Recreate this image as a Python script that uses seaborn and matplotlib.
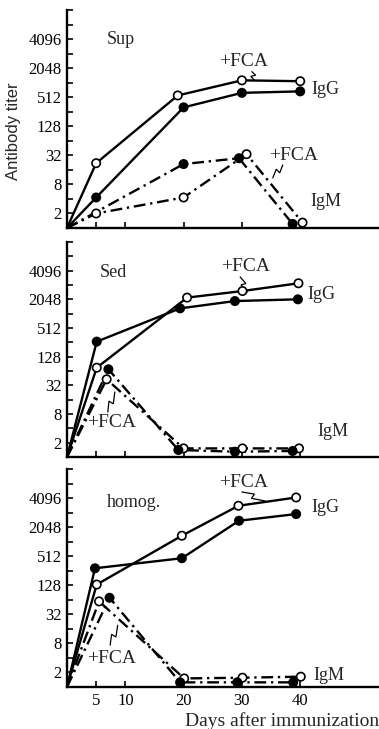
import numpy as np
import pandas as pd
import matplotlib
matplotlib.use("Agg")
import matplotlib.pyplot as plt
import seaborn as sns

sns.set_theme(style="ticks")
plt.rcParams['font.family'] = ['Liberation Serif', 'DejaVu Serif']

# ---- data (x: days after immunization, y: log2 titer position on the printed scale) ----
panels = ["Sup", "Sed", "homog."]

sup_igg_fca_days = [0, 5, 19, 30, 40]
sup_igg_fca_vals = [0, 4.46, 9.12, 10.16, 10.1]
sup_igg_days = [0, 5, 20, 30, 40]
sup_igg_vals = [0, 2.1, 8.3, 9.3, 9.4]
sup_igm_fca_days = [0, 5, 20, 30.8, 40.4]
sup_igm_fca_vals = [0, 1.0, 2.1, 5.08, 0.37]
sup_igm_days = [0, 20, 29.5, 38.7]
sup_igm_vals = [0, 4.4, 4.8, 0.28]

sed_igg_fca_days = [0, 5.1, 20.6, 30.1, 39.7]
sed_igg_fca_vals = [0, 6.23, 11.12, 11.58, 12.12]
sed_igg_days = [0, 5.1, 19.4, 28.8, 39.6]
sed_igg_vals = [0, 8.05, 10.37, 10.88, 11.0]
sed_igm_fca_days = [0, 6.8, 20.0, 30.1, 39.8]
sed_igm_fca_vals = [0, 5.42, 0.6, 0.6, 0.6]
sed_igm_days = [0, 7.1, 19.1, 28.8, 38.7]
sed_igm_vals = [0, 6.12, 0.49, 0.37, 0.42]

hom_igg_fca_days = [0, 5.1, 19.7, 29.4, 39.3]
hom_igg_fca_vals = [0, 7.05, 10.41, 12.47, 13.04]
hom_igg_days = [0, 4.8, 19.7, 29.5, 39.3]
hom_igg_vals = [0, 8.17, 8.86, 11.44, 11.9]
hom_igm_fca_days = [0, 5.5, 20.1, 30.1, 40.1]
hom_igm_fca_vals = [0, 5.89, 0.59, 0.64, 0.71]
hom_igm_days = [0, 7.3, 19.4, 29.2, 38.8]
hom_igm_vals = [0, 6.14, 0.32, 0.32, 0.32]

ytick_pos = [1, 3, 5, 7, 9, 11, 13]
ytick_labels = ["2", "8", "32", "128", "512", "2048", "4096"]
xtick_pos = [5, 10, 20, 30, 40]
xtick_labels = ["5", "10", "20", "30", "40"]

series_data = {
    "Sup": [("IgG+FCA", sup_igg_fca_days, sup_igg_fca_vals),
            ("IgG", sup_igg_days, sup_igg_vals),
            ("IgM+FCA", sup_igm_fca_days, sup_igm_fca_vals),
            ("IgM", sup_igm_days, sup_igm_vals)],
    "Sed": [("IgG+FCA", sed_igg_fca_days, sed_igg_fca_vals),
            ("IgG", sed_igg_days, sed_igg_vals),
            ("IgM+FCA", sed_igm_fca_days, sed_igm_fca_vals),
            ("IgM", sed_igm_days, sed_igm_vals)],
    "homog.": [("IgG+FCA", hom_igg_fca_days, hom_igg_fca_vals),
               ("IgG", hom_igg_days, hom_igg_vals),
               ("IgM+FCA", hom_igm_fca_days, hom_igm_fca_vals),
               ("IgM", hom_igm_days, hom_igm_vals)],
}

rows = []
for p in panels:
    for name, d, v in series_data[p]:
        for i, (dd, vv) in enumerate(zip(d, v)):
            rows.append(dict(panel=p, series=name, day=dd, titer=vv, order=i,
                             fill="open" if "FCA" in name else "filled",
                             kind="IgG" if name.startswith("IgG") else "IgM"))
df = pd.DataFrame(rows)

# ---- annotations (text + lightning arrows) in data units ----
annots = {
    "Sup": dict(title=(6.9, 13.0),
                texts=[("+FCA", 26.0, 11.45), ("IgG", 42.0, 9.5), ("+FCA", 34.6, 5.0), ("IgM", 41.7, 1.85)],
                bolts=[((31.7, 10.76), (32.2, 10.15)), ((37.0, 4.34), (35.3, 3.45))]),
    "Sed": dict(title=(5.7, 12.86),
                texts=[("+FCA", 26.4, 13.28), ("IgG", 41.2, 11.37), ("+FCA", 3.5, 2.4), ("IgM", 42.9, 1.77)],
                bolts=[((29.7, 12.56), (30.9, 11.5)), ((7.0, 3.14), (8.2, 4.54))]),
    "homog.": dict(title=(6.9, 12.7),
                   texts=[("+FCA", 26.0, 14.06), ("IgG", 42.0, 12.35), ("+FCA", 3.5, 1.96), ("IgM", 42.2, 0.82)],
                   bolts=[((30.0, 13.42), (34.0, 12.8)), ((7.4, 2.88), (8.7, 4.25))]),
}

W, H = 379, 729
fig = plt.figure(figsize=(W / 100, H / 100), dpi=100)
x0 = 67
boxes = [(228, 10), (457, 242), (687, 469)]  # (bottom px, top px)

line_styles = {"IgG+FCA": "-", "IgG": "-", "IgM+FCA": (0, (5, 2, 1, 2)), "IgM": (0, (5, 2, 1, 2))}

def bolt(ax, a, b):
    pa = ax.transData.transform(a)
    pb = ax.transData.transform(b)
    d = pb - pa
    L = np.hypot(*d)
    perp = np.array([-d[1], d[0]]) / L
    amp = 2.5
    pts = np.array([pa, pa + 0.5 * d + perp * amp, pa + 0.45 * d - perp * amp, pb])
    dp = ax.transData.inverted().transform(pts)
    ax.plot(dp[:, 0], dp[:, 1], color="black", lw=0.9, solid_joinstyle="miter")

for k, p in enumerate(panels):
    bot, top = boxes[k]
    ax = fig.add_axes([x0 / W, 1 - bot / H, (W - x0) / W, (bot - top) / H])
    ax.set_xlim(0, (W - x0) / 5.83)
    ax.set_ylim(0, 15)
    sub = df[df.panel == p]
    for name in ["IgG+FCA", "IgG", "IgM+FCA", "IgM"]:
        s = sub[sub.series == name]
        sns.lineplot(data=s, x="day", y="titer", sort=False, estimator=None, ax=ax,
                     color="black", lw=1.7, linestyle=line_styles[name], legend=False)
    pts = sub[sub.day > 0]
    sns.scatterplot(data=pts, x="day", y="titer", hue="fill",
                    palette={"open": "white", "filled": "black"}, edgecolor="black",
                    linewidth=1.2, s=36, ax=ax, legend=False, zorder=5)
    ax.set_xlabel("")
    ax.set_ylabel("")
    sns.despine(ax=ax)
    for sp in ["left", "bottom"]:
        ax.spines[sp].set_linewidth(1.7)
        ax.spines[sp].set_color("black")
    ax.set_yticks(range(1, 16))
    ax.set_yticklabels([ytick_labels[ytick_pos.index(t)] if t in ytick_pos else "" for t in range(1, 16)])
    ax.set_xticks(xtick_pos)
    ax.set_xticklabels(xtick_labels if k == 2 else [""] * len(xtick_pos))
    ax.tick_params(direction="in", length=4, width=1.2, colors="black", labelsize=12, pad=4)
    ax.tick_params(axis="x", pad=4)
    ax.set_facecolor("none")

    a = annots[p]
    ax.text(a["title"][0], a["title"][1], p, fontsize=13, ha="left", va="center")
    for t, xx, yy in a["texts"]:
        ax.text(xx, yy, t, fontsize=14 if "FCA" in t else 13, ha="left", va="center")
    for s0, s1 in a["bolts"]:
        bolt(ax, s0, s1)

fig.text(14 / W, 1 - 131 / H, "Antibody titer", rotation=90, ha="center", va="center",
         fontsize=12, family=["Liberation Sans", "DejaVu Sans"])
fig.text(185 / W, 1 - 721 / H, "Days after immunization", ha="left", va="center", fontsize=14)

fig.savefig("out.png", dpi=100, facecolor="white")
